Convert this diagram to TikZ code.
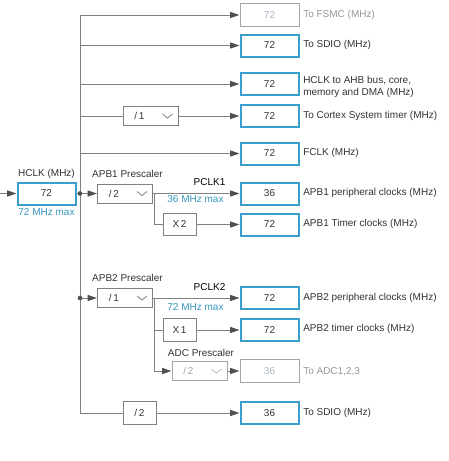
\documentclass[tikz,border=0pt]{standalone}
\usepackage{fontspec}
\setmainfont{Liberation Sans}
\usetikzlibrary{arrows.meta,calc}
\definecolor{boxblue}{RGB}{60,158,206}
\definecolor{maxteal}{RGB}{56,150,190}
\definecolor{wiregrey}{RGB}{128,128,128}
\definecolor{tipgrey}{RGB}{80,80,80}
\definecolor{textdark}{RGB}{50,50,50}
\definecolor{offgrey}{RGB}{165,165,165}
\definecolor{offtext}{RGB}{170,182,194}
\definecolor{offlabel}{RGB}{150,150,150}
\begin{document}
\begin{tikzpicture}[x=0.75pt,y=-0.75pt,
  font=\fontsize{7.5}{9}\selectfont,
  wire/.style={draw=wiregrey,line width=0.75pt},
  arr/.style={wire,-{Triangle[length=7pt,width=4.5pt,color=tipgrey]}},
  valbox/.style={draw=boxblue,line width=1.5pt,minimum width=43.5pt,minimum height=16.5pt,inner sep=0pt,text=textdark},
  offbox/.style={draw=offgrey,line width=0.75pt,minimum width=44.25pt,minimum height=17.25pt,inner sep=0pt,text=offtext},
  divbox/.style={draw=wiregrey,line width=0.75pt,minimum width=41.25pt,minimum height=14.25pt,inner sep=0pt},
  multbox/.style={draw=wiregrey,line width=0.75pt,minimum width=24.75pt,minimum height=17pt,inner sep=0pt,text=textdark},
  lbl/.style={inner sep=0pt,text=textdark},
  rlbl/.style={lbl,anchor=west},
  maxlbl/.style={inner sep=0pt,text=maxteal},
  chev/.style={draw=wiregrey,line width=0.6pt},
  dot/.style={circle,fill=tipgrey,inner sep=0pt,minimum size=3.5pt},
]
\useasboundingbox (0,0) rectangle (449,461);

% value boxes
\node[offbox] (fsmc) at (269.5,15) {72};
\node[valbox] (sdio) at (269.5,45.5) {72};
\node[valbox] (ahb) at (269.5,84) {72};
\node[valbox] (cortex) at (269.5,116) {72};
\node[valbox] (fclk) at (269.5,153.5) {72};
\node[valbox] (apb1p) at (269.5,193.5) {36};
\node[valbox] (apb1t) at (269.5,224.5) {72};
\node[valbox] (apb2p) at (269.5,298) {72};
\node[valbox] (apb2t) at (269.5,330) {72};
\node[offbox] (adc) at (269.5,371) {36};
\node[valbox] (sdio2) at (269.5,413) {36};
\node[valbox] (hclk) at (46.5,193.5) {72};

% prescaler / multiplier boxes
\node[divbox] (cortexdiv) at (150.5,116) {};
\node[divbox] (apb1div) at (125,193.5) {};
\node[divbox] (apb2div) at (125,298) {};
\node[divbox,draw=offgrey] (adcdiv) at (199.5,371) {};
\node[multbox] (x2) at (179.5,224.5) {X\,2};
\node[multbox] (x1) at (179.5,330) {X\,1};
\node[multbox,minimum height=17.25pt] (half) at (139.5,413) {/\,2};

\node[lbl] (cortexdivt) at ($(cortexdiv.west)+(17,0)$) {/\,1};
\node[lbl] (apb1divt) at ($(apb1div.west)+(17,0)$) {/\,2};
\node[lbl] (apb2divt) at ($(apb2div.west)+(17,0)$) {/\,1};
\node[lbl,text=offgrey] (adcdivt) at ($(adcdiv.west)+(17,0)$) {/\,2};
\draw[chev] ($(cortexdiv.east)+(-16,-2)$) -- ++(5,4) -- ++(5,-4);
\draw[chev] ($(apb1div.east)+(-16,-2)$) -- ++(5,4) -- ++(5,-4);
\draw[chev] ($(apb2div.east)+(-16,-2)$) -- ++(5,4) -- ++(5,-4);
\draw[chev,draw=offgrey!70] ($(adcdiv.east)+(-16,-2)$) -- ++(5,4) -- ++(5,-4);

% coordinates
\coordinate (bustop) at (80,15);
\coordinate (busbot) at (80,413);
\coordinate (in) at (0,193.5);
\coordinate (j1) at (80,193.5);
\coordinate (j2) at (80,298);
\coordinate (b1) at (154,193.5);
\coordinate (b1e) at (154,224.5);
\coordinate (b2) at (154,298);
\coordinate (b2x) at (154,330);
\coordinate (b2e) at (154,371);

% connectors
\draw[arr] (busbot) -- (bustop) -- (fsmc);
\draw[wire] (busbot) -- (half);
\draw[arr] (half) -- (sdio2);
\draw[arr] (bustop |- sdio) -- (sdio);
\draw[arr] (bustop |- ahb) -- (ahb);
\draw[wire] (bustop |- cortexdiv) -- (cortexdiv);
\draw[arr] (cortexdiv) -- (cortex);
\draw[arr] (bustop |- fclk) -- (fclk);
\draw[arr] (in) -- (hclk);
\draw[wire] (hclk) -- (j1);
\draw[arr] (j1) -- (apb1div);
\draw[arr] (apb1div) -- (apb1p);
\draw[wire] (b1) -- (b1e) -- (x2);
\draw[arr] (x2) -- (apb1t);
\draw[arr] (j2) -- (apb2div);
\draw[arr] (apb2div) -- (apb2p);
\draw[arr] (b2) -- (b2e) -- (adcdiv);
\draw[wire] (b2x) -- (x1);
\draw[arr] (x1) -- (apb2t);
\draw[arr] (adcdiv) -- (adc);
\node[dot] (d1) at (j1) {};
\node[dot] (d2) at (j2) {};

% labels
\node[lbl] (hclkl) at (46.5,173.5) {HCLK (MHz)};
\node[maxlbl] (hclkm) at (46.5,212.5) {72 MHz max};
\node[lbl] (apb1l) at (127.5,173.5) {APB1 Prescaler};
\node[lbl,text=black] (pclk1) at (209.5,182) {PCLK1};
\node[maxlbl] (m1) at (195.5,199.5) {36 MHz max};
\node[lbl] (apb2l) at (127.5,278) {APB2 Prescaler};
\node[lbl,text=black] (pclk2) at (209.5,287) {PCLK2};
\node[maxlbl] (m2) at (195.5,307) {72 MHz max};
\node[lbl] (adcl) at (201,353) {ADC Prescaler};

\node[rlbl,text=offlabel] (l1) at (303,15) {To FSMC (MHz)};
\node[rlbl] (l2) at (303,45) {To SDIO (MHz)};
\node[rlbl,align=left] (l3) at (303,86.5) {HCLK to AHB bus, core,\\memory and DMA (MHz)};
\node[rlbl] (l4) at (303,116) {To Cortex System timer (MHz)};
\node[rlbl] (l5) at (303,153) {FCLK (MHz)};
\node[rlbl] (l6) at (303,193) {APB1 peripheral clocks (MHz)};
\node[rlbl] (l7) at (303,224) {APB1 Timer clocks (MHz)};
\node[rlbl] (l8) at (303,298) {APB2 peripheral clocks (MHz)};
\node[rlbl] (l9) at (303,329) {APB2 timer clocks (MHz)};
\node[rlbl,text=offlabel] (l10) at (303,372) {To ADC1,2,3};
\node[rlbl] (l11) at (303,413) {To SDIO (MHz)};
\end{tikzpicture}
\end{document}
